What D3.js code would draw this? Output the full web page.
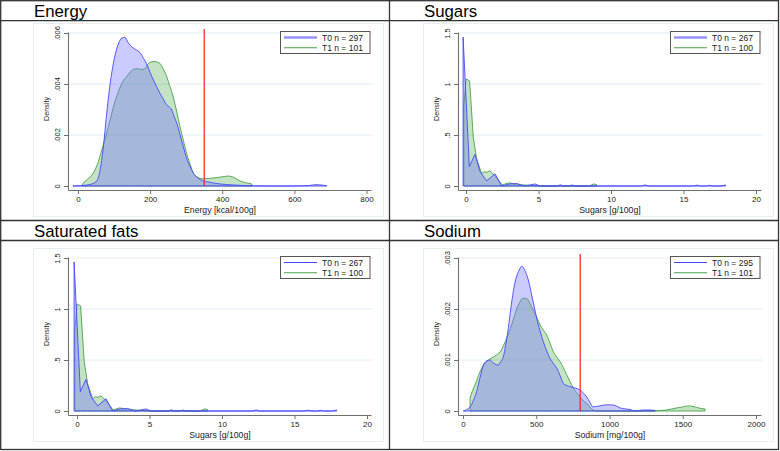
<!DOCTYPE html>
<html><head><meta charset="utf-8">
<script src="https://cdn.jsdelivr.net/npm/d3@7"></script>
<style>
html,body{margin:0;padding:0;background:#fff;}
svg{display:block;font-family:"Liberation Sans",Arial,sans-serif;}
</style></head>
<body><svg id="c" width="780" height="451"></svg>
<script>
// ---------- DATA ----------
const panelTitles = ["Energy", "Sugars", "Saturated fats", "Sodium"];
const xLabels = ["Energy [kcal/100g]", "Sugars [g/100g]", "Sugars [g/100g]", "Sodium [mg/100g]"];
const legendLabels = [["T0 n = 297","T1 n = 101"],["T0 n = 267","T1 n = 100"],["T0 n = 267","T1 n = 100"],["T0 n = 295","T1 n = 101"]];
const energyXTicks = [0,200,400,600,800];
const gramXTicks = [0,5,10,15,20];
const sodiumXTicks = [0,500,1000,1500,2000];
const energyYTicks = [0,0.002,0.004,0.006];
const energyYLabels = ["0",".002",".004",".006"];
const gramYTicks = [0,0.5,1,1.5];
const gramYLabels = ["0",".5","1","1.5"];
const sodiumYTicks = [0,0.001,0.002,0.003];
const sodiumYLabels = ["0",".001",".002",".003"];
const energyLimit = 350;
const sodiumLimit = 800;

const energyT0 = [[-14,0],[20,0.00003],[42,0.0001],[52,0.0002],[61,0.0006],[70,0.0015],[80,0.0029],[90,0.0041],[98,0.0048],[110,0.0055],[122,0.0058],[130,0.00583],[140,0.0056],[149,0.00546],[160,0.00535],[172,0.00523],[182,0.005],[190,0.0048],[200,0.00445],[209,0.00416],[218,0.0039],[227,0.00364],[237,0.0034],[246,0.00318],[253,0.0031],[260,0.00298],[267,0.0027],[274,0.00246],[283,0.002],[292,0.00154],[301,0.0011],[311,0.00076],[320,0.0005],[329,0.00036],[340,0.00024],[357,0.00017],[375,0.00012],[394,0.00008],[430,0.00004],[470,0.00001],[520,0],[600,0],[640,0.00002],[660,0.00005],[680,0.00003],[690,0.00001]];
const energyT1 = [[10,0],[14,0.0001],[25,0.00025],[42,0.0005],[55,0.0009],[66,0.00141],[78,0.002],[89,0.00259],[100,0.0032],[112,0.0037],[124,0.0041],[135,0.00429],[145,0.00447],[153,0.00457],[165,0.0046],[177,0.00457],[185,0.0046],[195,0.0048],[205,0.00487],[214,0.00488],[222,0.00485],[227,0.00481],[236,0.0046],[246,0.00429],[255,0.0039],[264,0.0035],[274,0.0029],[283,0.00232],[292,0.0018],[301,0.00128],[310,0.0009],[320,0.0005],[330,0.00035],[348,0.00028],[365,0.0003],[385,0.00033],[405,0.00037],[417,0.00039],[430,0.00035],[449,0.0002],[465,0.00013],[482,0.00008]];

const sugarsT0 = [[-0.2,1.46],[0.23,0.19],[0.62,0.31],[0.97,0.14],[1.43,0.05],[2.0,0.12],[2.46,0],[3.0,0.02],[3.5,0.025],[4.0,0],[4.4,0.01],[4.76,0.02],[5.1,0],[6.3,0],[6.5,0.012],[6.7,0],[7.1,0],[7.3,0.01],[7.5,0],[12.1,0],[12.35,0.01],[12.6,0],[15.7,0],[15.95,0.008],[16.2,0],[16.6,0],[16.8,0.007],[17.0,0],[17.6,0],[17.9,0.01]];
const sugarsT1 = [[-0.15,0.78],[0.0,1.05],[0.25,1.03],[0.5,0.48],[0.73,0.27],[1.08,0.12],[1.25,0.14],[1.45,0.135],[1.65,0.15],[2.0,0.1],[2.5,0.01],[2.9,0.03],[3.2,0.025],[3.4,0.01],[3.8,0.012],[4.2,0.008],[4.6,0.005],[5,0],[8.5,0],[8.8,0.02],[9.0,0.015]];
const satFatT0 = [[-0.2,1.46],[0.23,0.19],[0.62,0.31],[0.97,0.14],[1.43,0.05],[2.0,0.12],[2.46,0],[3.0,0.02],[3.5,0.025],[4.0,0],[4.4,0.01],[4.76,0.02],[5.1,0],[6.3,0],[6.5,0.012],[6.7,0],[7.1,0],[7.3,0.01],[7.5,0],[12.1,0],[12.35,0.01],[12.6,0],[15.7,0],[15.95,0.008],[16.2,0],[16.6,0],[16.8,0.007],[17.0,0],[17.6,0],[17.9,0.01]];
const satFatT1 = [[-0.15,0.78],[0.0,1.05],[0.25,1.03],[0.5,0.48],[0.73,0.27],[1.08,0.12],[1.25,0.14],[1.45,0.135],[1.65,0.15],[2.0,0.1],[2.5,0.01],[2.9,0.03],[3.2,0.025],[3.4,0.01],[3.8,0.012],[4.2,0.008],[4.6,0.005],[5,0],[8.5,0],[8.8,0.02],[9.0,0.015]];

const sodiumT0 = [[2,0],[48,0.00008],[70,0.0002],[93,0.00038],[116,0.00065],[139,0.0009],[160,0.00098],[184,0.001],[200,0.00096],[218,0.00092],[241,0.0009],[258,0.00097],[275,0.00106],[292,0.0013],[309,0.00162],[326,0.002],[343,0.00234],[360,0.00258],[378,0.00273],[390,0.0028],[400,0.00284],[418,0.00278],[435,0.00267],[452,0.0025],[469,0.00227],[486,0.00205],[503,0.00182],[525,0.00158],[548,0.00136],[571,0.00118],[594,0.00103],[617,0.00093],[640,0.00084],[662,0.0007],[685,0.00054],[708,0.0005],[730,0.00048],[765,0.00045],[799,0.00041],[822,0.00035],[844,0.00028],[866,0.00017],[889,0.00008],[912,0.00009],[935,0.0001],[975,0.00012],[1015,0.00012],[1045,0.0001],[1072,0.00006],[1110,0.00004],[1140,0.00003],[1175,0],[1200,0.00001],[1231,0.00002],[1270,0.00002],[1311,0.00001]];
const sodiumT1 = [[48,0.00025],[65,0.0004],[82,0.00051],[100,0.00065],[116,0.00077],[140,0.0009],[162,0.00097],[185,0.00102],[207,0.00106],[230,0.0011],[253,0.00116],[275,0.00127],[298,0.00143],[315,0.00155],[332,0.00169],[350,0.00185],[367,0.00201],[385,0.00212],[407,0.00221],[422,0.00221],[437,0.0022],[458,0.0021],[480,0.00198],[503,0.00184],[526,0.00169],[548,0.00159],[571,0.00149],[594,0.00133],[617,0.00116],[640,0.00106],[662,0.00097],[685,0.00085],[708,0.00071],[730,0.00058],[753,0.00045],[776,0.00036],[799,0.00028],[822,0.0002],[844,0.00015],[866,0.00008],[889,0.00002],[920,0],[1297,0],[1340,0.00001],[1390,0.00002],[1425,0.00004],[1458,0.00006],[1500,0.00008],[1538,0.0001],[1570,0.00009],[1595,0.00007],[1625,0.00005],[1652,0.00004]];

// ---------- LAYOUT / STYLE ----------
const panels = [
  {ox:0,   oy:0,   ty:0,   t0:energyT0, t1:energyT1, xt:energyXTicks, xd:[0,800], xp:[78,366.5], yt:energyYTicks, yl:energyYLabels, limit:energyLimit, smooth:true, legThick:true},
  {ox:390, oy:0,   ty:0,   t0:sugarsT0, t1:sugarsT1, xt:gramXTicks, xd:[0,20], xp:[76,366], yt:gramYTicks, yl:gramYLabels, limit:null, smooth:false, legThick:true},
  {ox:0,   oy:225, ty:220, t0:satFatT0, t1:satFatT1, xt:gramXTicks, xd:[0,20], xp:[77,367], yt:gramYTicks, yl:gramYLabels, limit:null, smooth:false, legThick:false},
  {ox:390, oy:225, ty:220, t0:sodiumT0, t1:sodiumT1, xt:sodiumXTicks, xd:[0,2000], xp:[73,366], yt:sodiumYTicks, yl:sodiumYLabels, limit:sodiumLimit, smooth:true, legThick:false}
];
const BLUE_LINE = "#4646ff", GREEN_LINE = "#47a247";
const BLUE_FILL = "rgba(110,110,255,0.36)", GREEN_FILL = "rgba(0,128,0,0.23)";
const AXIS = "#707070";

const svg = d3.select("#c");

panels.forEach((p, i) => {
  const g = svg.append("g");
  g.append("rect").attr("x", p.ox+33.5).attr("y", p.oy+23.5).attr("width", 350).attr("height", 193)
    .attr("fill", "#fff").attr("stroke", "#e6eef1").attr("stroke-width", 1);

  const xb = d3.scaleLinear().domain(p.xd).range([p.ox+p.xp[0], p.ox+p.xp[1]]);
  const x = d3.scaleLinear().domain([xb.invert(p.ox+68), xb.invert(p.ox+371)]).range([p.ox+68, p.ox+371]);
  const top = p.yt[p.yt.length-1];
  const yb = d3.scaleLinear().domain([0, top]).range([p.oy+186, p.oy+33]);
  const y = d3.scaleLinear().domain([yb.invert(p.oy+190), yb.invert(p.oy+32)]).range([p.oy+190, p.oy+32]);

  g.selectAll(".grid").data(p.yt.filter(v => v > 0)).join("line")
    .attr("x1", p.ox+68).attr("x2", p.ox+373)
    .attr("y1", d => y(d)).attr("y2", d => y(d))
    .attr("stroke", "#e3ecf0").attr("stroke-width", 1);

  const curve = p.smooth ? d3.curveMonotoneX : d3.curveLinear;
  const area = d3.area().x(d => x(d[0])).y0(y(0)).y1(d => y(d[1])).curve(curve);
  g.append("path").attr("d", area(p.t1)).attr("fill", GREEN_FILL).attr("stroke", GREEN_LINE).attr("stroke-width", 0.9).attr("stroke-linejoin","round");
  g.append("path").attr("d", area(p.t0)).attr("fill", BLUE_FILL).attr("stroke", BLUE_LINE).attr("stroke-width", 0.9).attr("stroke-linejoin","round");

  if (p.limit !== null) {
    g.append("line").attr("x1", x(p.limit)).attr("x2", x(p.limit))
      .attr("y1", p.oy+29).attr("y2", p.oy+186).attr("stroke", "#ff1a1a").attr("stroke-width", 1.2);
  }

  const xa = g.append("g").attr("transform", `translate(0,${p.oy+190})`)
    .call(d3.axisBottom(x).tickValues(p.xt).tickFormat(d => String(d)).tickSize(4).tickSizeOuter(0).tickPadding(2.5));
  xa.select(".domain").attr("stroke", AXIS).attr("stroke-width", 1.1);
  xa.selectAll(".tick line").attr("stroke", AXIS);
  xa.selectAll("text").attr("font-size", 8).attr("fill", "#222").attr("font-family", "Liberation Sans, Arial, sans-serif");

  const ya = g.append("g").attr("transform", `translate(${p.ox+68},0)`)
    .call(d3.axisLeft(y).tickValues(p.yt).tickFormat((d, k) => p.yl[k]).tickSize(4).tickSizeOuter(0));
  ya.select(".domain").attr("stroke", AXIS).attr("stroke-width", 1.1);
  ya.selectAll(".tick line").attr("stroke", AXIS);
  ya.selectAll("text").attr("x", null).attr("dy", null)
    .attr("transform", "translate(-8,0) rotate(-90)")
    .attr("text-anchor", "middle").attr("font-size", 7.5).attr("fill", "#222")
    .attr("font-family", "Liberation Sans, Arial, sans-serif");

  g.append("text").attr("x", p.ox+220).attr("y", p.oy+213).attr("text-anchor", "middle")
    .attr("font-size", 8.7).attr("fill", "#222").text(xLabels[i]);
  g.append("text").attr("transform", `translate(${p.ox+48.5},${p.oy+109}) rotate(-90)`).attr("text-anchor", "middle")
    .attr("font-size", 7.2).attr("fill", "#222").text("Density");

  const lg = g.append("g");
  lg.append("rect").attr("x", p.ox+280.5).attr("y", p.oy+31.5).attr("width", 89.5).attr("height", 22)
    .attr("fill", "#fff").attr("stroke", "#555").attr("stroke-width", 1);
  lg.append("line").attr("x1", p.ox+284).attr("x2", p.ox+317).attr("y1", p.oy+37.5).attr("y2", p.oy+37.5)
    .attr("stroke", p.legThick ? "#9494ff" : "#4646ff").attr("stroke-width", p.legThick ? 2.6 : 1.2);
  lg.append("line").attr("x1", p.ox+284).attr("x2", p.ox+317).attr("y1", p.oy+47.7).attr("y2", p.oy+47.7)
    .attr("stroke", GREEN_LINE).attr("stroke-width", 1.1);
  lg.append("text").attr("x", p.ox+322).attr("y", p.oy+40.5).attr("font-size", 8.5).attr("fill", "#222").text(legendLabels[i][0]);
  lg.append("text").attr("x", p.ox+322).attr("y", p.oy+50.8).attr("font-size", 8.5).attr("fill", "#222").text(legendLabels[i][1]);

  svg.append("text").attr("x", p.ox+34).attr("y", p.ty+16.7).attr("font-size", 16.8).attr("fill", "#000").text(panelTitles[i]);
});

const F = "#333";
const frame = svg.append("g").attr("stroke", F).attr("stroke-width", 1.3).attr("fill", "none");
frame.append("rect").attr("x", 0.7).attr("y", 0.7).attr("width", 777.8).attr("height", 448.8);
frame.append("line").attr("x1", 389.5).attr("x2", 389.5).attr("y1", 0).attr("y2", 450);
frame.append("line").attr("x1", 0).attr("x2", 779).attr("y1", 220.5).attr("y2", 220.5);
frame.append("line").attr("x1", 0).attr("x2", 779).attr("y1", 20.7).attr("y2", 20.7);
frame.append("line").attr("x1", 0).attr("x2", 779).attr("y1", 240.5).attr("y2", 240.5);
</script></body></html>
